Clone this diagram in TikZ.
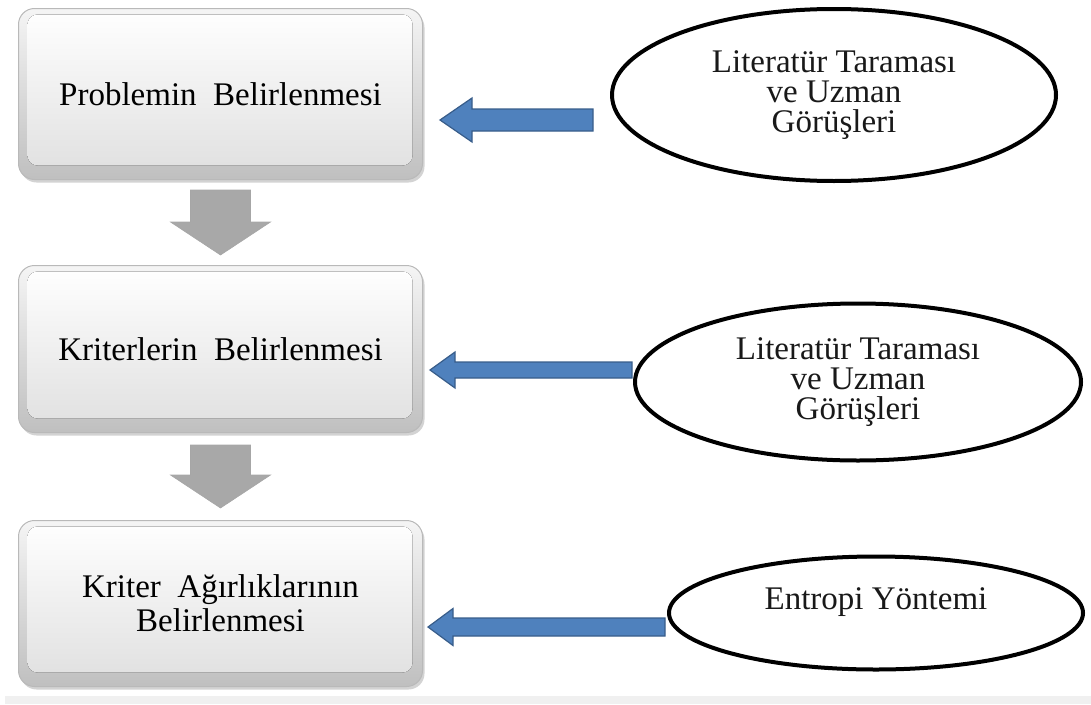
\documentclass[tikz,border=0pt]{standalone}
\usepackage{fontspec}
\setmainfont{Liberation Serif}
\usepackage{tikz}
\usetikzlibrary{shapes.geometric}
\usetikzlibrary{shadows}
\usetikzlibrary{calc}

\definecolor{officeblue}{RGB}{79,129,189}
\definecolor{officeline}{RGB}{56,93,138}
\definecolor{stepgray}{RGB}{168,168,168}

\tikzset{
  stage/.style={rectangle, rounded corners=16pt, draw=gray!55, line width=1pt,
    top color=gray!8, bottom color=gray!50, minimum width=404pt, align=center,
    text=black, font=\fontsize{33pt}{34pt}\selectfont,
    drop shadow={shadow xshift=2pt, shadow yshift=-3pt, opacity=0.35, fill=gray},
    path picture={
      \fill[top color=white, bottom color=gray!25, rounded corners=10pt]
        ([xshift=9pt,yshift=-6pt]path picture bounding box.north west)
        rectangle ([xshift=-10pt,yshift=14pt]path picture bounding box.south east);
    }},
  oval/.style={ellipse, draw, line width=4pt, fill=white, inner sep=0pt,
    align=center, text=black!90, font=\fontsize{33pt}{30pt}\selectfont},
  fatdown/.style={fill=stepgray, draw=gray!70, line width=0.6pt,
    to path={let \p1=(\tikztostart), \p2=(\tikztotarget) in
      (\x1-30pt,\y1) -- (\x1-30pt,\y2+33pt) -- (\x1-50pt,\y2+33pt) -- (\x2,\y2)
      -- (\x1+50pt,\y2+33pt) -- (\x1+30pt,\y2+33pt) -- (\x1+30pt,\y1) -- cycle}},
  fatleft/.style n args={3}{fill=officeblue, draw=officeline, line width=1.2pt,
    to path={let \p1=(\tikztostart), \p2=(\tikztotarget) in
      (\x1,\y1+#1) -- (\x2+#3,\y1+#1) -- (\x2+#3,\y1+#2) -- (\x2,\y2)
      -- (\x2+#3,\y1-#2) -- (\x2+#3,\y1-#1) -- (\x1,\y1-#1) -- cycle}}
}

\begin{document}
\begin{tikzpicture}[x=1pt,y=-1pt]
  \useasboundingbox (0,0) rectangle (1091,704);
  \fill[gray!12] (5,696) rectangle (1091,704);

  % steps
  \node[stage, minimum height=171pt] (prob) at (220.5,94) {Problemin\enspace Belirlenmesi};
  \node[stage, minimum height=167pt] (krit) at (220.5,349) {Kriterlerin\enspace Belirlenmesi};
  \node[stage, minimum height=166pt] (agir) at (220.5,603.5) {Kriter\enspace Ağırlıklarının\\Belirlenmesi};

  % sources
  \node[oval, minimum width=444pt, minimum height=172pt] (lit1) at (834,95)
    {Literatür Taraması\\ve Uzman\\Görüşleri};
  \node[oval, minimum width=446pt, minimum height=157pt] (lit2) at (858,382)
    {Literatür Taraması\\ve Uzman\\Görüşleri};
  \node[oval, minimum width=414pt, minimum height=113pt, text depth=28pt] (ent) at (876,613)
    {Entropi Yöntemi};

  \draw[fatdown] ($(prob.south)+(0,10)$) to ($(krit.north)+(0,-10)$);
  \draw[fatdown] ($(krit.south)+(0,12)$) to ($(agir.north)+(0,-12)$);

  \draw[fatleft={11pt}{22pt}{32pt}] ($(lit1.west)+(-17,25)$) to ($(prob.east)+(17,26)$);
  \draw[fatleft={8pt}{18pt}{25pt}] ($(lit2.west)+(-1,-12)$) to ($(krit.east)+(7,21)$);
  \draw[fatleft={9pt}{18.5pt}{25pt}] ($(ent.west)+(-2,14)$) to ($(agir.east)+(5,23.5)$);
\end{tikzpicture}
\end{document}
